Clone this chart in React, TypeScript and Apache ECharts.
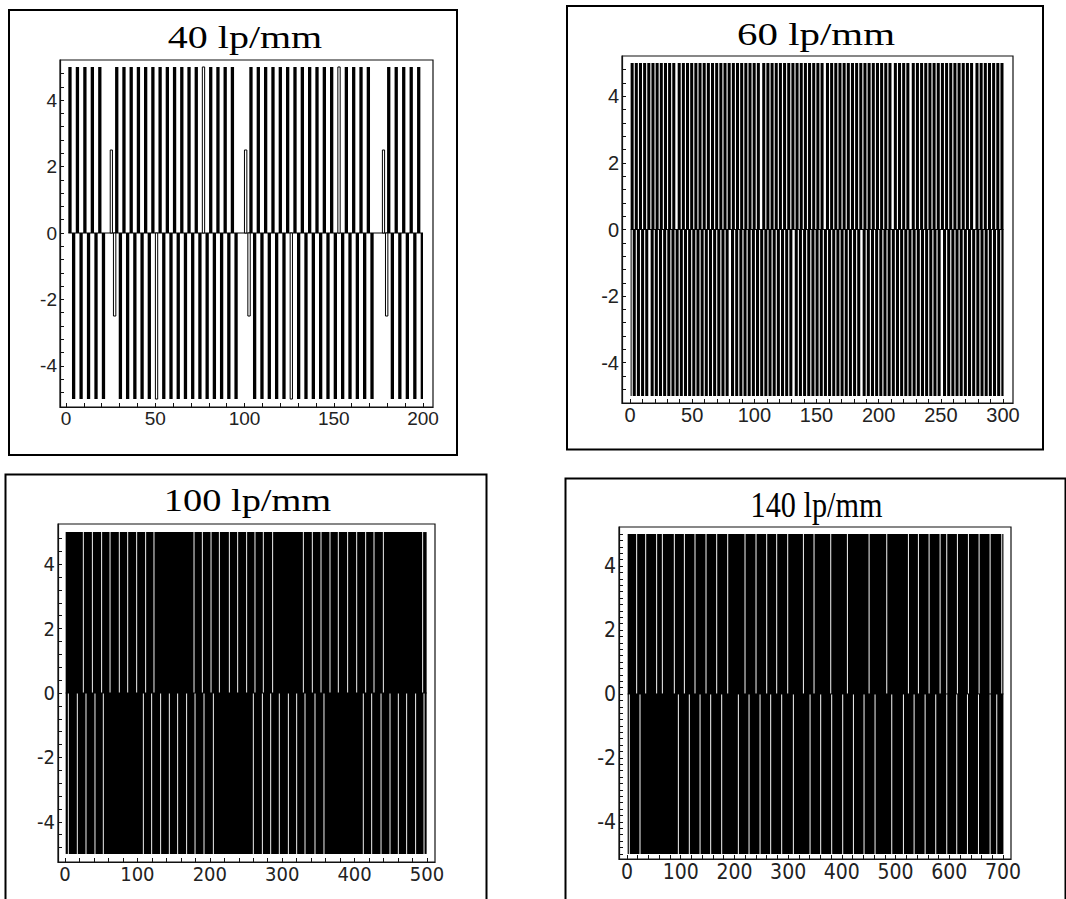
import React, { useEffect, useRef } from "react";
import * as echarts from "echarts";

// ---------------- data ----------------
const TITLES = ["40 lp/mm", "60 lp/mm", "100 lp/mm", "140 lp/mm"];
const X_END = [200, 300, 500, 700];
const X_LABELS_40 = [0, 50, 100, 150, 200];
const X_LABELS_60 = [0, 50, 100, 150, 200, 250, 300];
const X_LABELS_100 = [0, 100, 200, 300, 400, 500];
const X_LABELS_140 = [0, 100, 200, 300, 400, 500, 600, 700];
const Y_LABELS = [-4, -2, 0, 2, 4];
const X_TICK_STEP = [10, 10, 20, 20];
const Y_TICK_STEP = [0.4, 0.4, 0.4, 0.2];
const AMP_FULL = 5;
const AMP_HALF = 2.5;

// bar pattern, run lengths along x: B = black bar to +/-5, W = empty,
// O = outlined bar to +/-5, H = outlined bar to +/-2.5
const UP_40 =
  "W1.3 (B1.85 W2.33)*5 W2.3 H1.8 W1.2 (B1.85 W2.2)*12 O1.85 W2.2 (B1.85 W2.2)*4 W3.35 H1.9 W1.1 (B1.85 W2.26)*12 O1.85 W2.26 (B1.85 W2.26)*4 W4.4 H1.8 W1.1 (B1.85 W2.35)*4 B1.85 W1.55";
const DN_40 =
  "W3.35 (B1.85 W2.33)*4 B1.85 W4.38 H1.9 W1.35 (B1.85 W2.2)*5 O1.85 W2.2 (B1.85 W2.2)*11 W3.2 H1.9 W1.25 (B1.85 W2.26)*5 O1.85 W2.26 (B1.85 W2.26)*11 W4.08 H1.9 W1.3 (B1.85 W2.35)*4 B1.3";
const UP_60 =
  "W0.5 (B2.45 W0.9)*10 B2.45 W1.9 (B2.45 W0.9)*19 B2.45 W1.9 (B2.45 W0.9)*14 B2.45 W1.9 (B2.45 W0.9)*15 B2.45 W1.9 (B2.45 W0.9)*3 B2.45 W1.9 (B2.45 W0.9)*14 B2.45 W1.9 (B2.45 W0.9)*6 B2.45";
const DN_60 =
  "W0.5 B0.8 W0.9 (B2.45 W0.9)*3 B2.45 W1.9 (B2.45 W0.9)*18 B2.45 W1.9 (B2.45 W0.9)*14 B2.45 W1.9 (B2.45 W0.9)*15 B2.45 W1.9 (B2.45 W0.9)*18 B2.45 W1.9 (B2.45 W0.9)*14 B1.8";

// dense panels: black from span start to end, broken by thin white lines at these x
const SPAN_100 = [0.9, 499.5];
const LINE_W_100 = 1.3;
const UP_LINES_100 = [25.3, 37.8, 50.6, 62.2, 75.0, 86.6, 99.0, 111.4, 122.9, 178.2, 189.7, 201.7, 213.2, 227.0, 238.5, 250.9, 262.4, 273.9, 286.8, 329.2, 341.6, 353.6, 366.0, 377.5, 390.4, 402.9, 415.3, 426.8, 439.7, 494.0];
const DN_LINES_100 = [4.6, 17.0, 29.0, 41.4, 52.9, 108.2, 119.7, 132.1, 144.1, 155.6, 168.0, 179.6, 192.0, 204.9, 260.1, 272.6, 284.1, 296.0, 308.5, 320.0, 331.5, 345.3, 357.7, 412.0, 423.6, 436.5, 448.9, 460.4, 471.9, 484.3, 495.9];
const SPAN_140 = [1.2, 700.8];
const LINE_W_140 = 1.8;
const UP_LINES_140 = [18, 34.8, 55.2, 65.8, 88.1, 106.8, 126.6, 147.1, 167, 187.5, 219.7, 240.2, 260.1, 278.7, 299.2, 328.4, 348.2, 379.3, 410.3, 450.7, 483.6, 523.9, 542.5, 562.4, 582.9, 595.3, 615.1, 635.6, 655.5, 676, 697.7];
const DN_LINES_140 = [4.3, 24.2, 95.6, 116, 136, 155.8, 176.3, 207.3, 227.2, 247.7, 267.5, 288, 309.7, 340.8, 360.6, 381.1, 401.6, 421.5, 441.3, 461.8, 492.9, 514.6, 534.5, 555, 574.8, 595.3, 613.9, 633.8, 654.3, 676, 688.4];

// ---------------- layout (pixels) ----------------
const WIDE_FONT = '"Liberation Sans", Arial, sans-serif';
const NARROW_FONT = '"Liberation Sans Narrow", "DejaVu Sans Condensed", "Liberation Sans", sans-serif';
const LAYOUT = [
  { grid: { left: 60, top: 60, width: 373, height: 347 }, x: [-3.36, 205.6], y: [-5.24, 5.21], frame: [9, 10, 448, 445], title: { x: 245, y: 37.5, size: 32, sx: 1.25 }, font: WIDE_FONT, fs: 19 },
  { grid: { left: 622, top: 56, width: 391, height: 347 }, x: [-6.43, 308.04], y: [-5.21, 5.21], frame: [567, 6, 476, 443.5], title: { x: 816, y: 34.5, size: 31, sx: 1.32 }, font: WIDE_FONT, fs: 20 },
  { grid: { left: 58, top: 524, width: 377, height: 338 }, x: [-9.67, 511.05], y: [-5.25, 5.25], frame: [5.5, 474.5, 481, 440], title: { x: 247.5, y: 501, size: 32, sx: 1.2 }, font: NARROW_FONT, fs: 20 },
  { grid: { left: 619, top: 527, width: 392, height: 332 }, x: [-14.9, 714.9], y: [-5.16, 5.22], frame: [565.5, 478.5, 500, 440], title: { x: 816.5, y: 504.5, size: 36, sx: 0.84 }, font: NARROW_FONT, fs: 21 },
];

type Run = [number, number, number, number];

function expand(spec: string): string[] {
  const flat = spec.replace(/\(([^)]*)\)\*(\d+)/g, (_m, body, n) => Array(Number(n)).fill(body).join(" "));
  return flat.trim().split(/\s+/);
}

function rleRuns(spec: string, sign: number): Run[] {
  const out: Run[] = [];
  let x = 0;
  for (const tok of expand(spec)) {
    const k = tok[0];
    const len = parseFloat(tok.slice(1));
    if (k === "B") out.push([x, x + len, sign * AMP_FULL, 0]);
    else if (k === "O") out.push([x, x + len, sign * AMP_FULL, 1]);
    else if (k === "H") out.push([x, x + len, sign * AMP_HALF, 1]);
    x += len;
  }
  return out;
}

function lineRuns(span: number[], lines: number[], w: number, sign: number): Run[] {
  const out: Run[] = [];
  let x = span[0];
  for (const g of lines) {
    out.push([x, g - w / 2, sign * AMP_FULL, 0]);
    x = g + w / 2;
  }
  out.push([x, span[1], sign * AMP_FULL, 0]);
  return out;
}

const PANEL_RUNS: Run[][] = [
  [...rleRuns(UP_40, 1), ...rleRuns(DN_40, -1)],
  [...rleRuns(UP_60, 1), ...rleRuns(DN_60, -1)],
  [...lineRuns(SPAN_100, UP_LINES_100, LINE_W_100, 1), ...lineRuns(SPAN_100, DN_LINES_100, LINE_W_100, -1)],
  [...lineRuns(SPAN_140, UP_LINES_140, LINE_W_140, 1), ...lineRuns(SPAN_140, DN_LINES_140, LINE_W_140, -1)],
];
const X_LABELS = [X_LABELS_40, X_LABELS_60, X_LABELS_100, X_LABELS_140];

function stepTicks(lo: number, hi: number, step: number): number[] {
  const out: number[] = [];
  const k0 = Math.ceil(lo / step - 1e-9);
  const k1 = Math.floor(hi / step + 1e-9);
  for (let k = k0; k <= k1; k++) out.push(Math.round(k * step * 1000) / 1000);
  return out;
}

function buildOption(): any {
  const grid: any[] = [];
  const xAxis: any[] = [];
  const yAxis: any[] = [];
  const series: any[] = [];
  const graphic: any[] = [];

  LAYOUT.forEach((L, i) => {
    const labelStyle = { fontFamily: L.font, fontSize: L.fs, color: "#222" };
    grid.push({ ...L.grid, show: true, borderColor: "#111", borderWidth: 1.2, backgroundColor: "#fff" });
    xAxis.push({
      gridIndex: i,
      type: "value",
      min: L.x[0],
      max: L.x[1],
      axisLine: { show: true, onZero: false, lineStyle: { color: "#111", width: 1.2 } },
      axisTick: { show: true, inside: true, length: 4, customValues: stepTicks(0, X_END[i], X_TICK_STEP[i]), lineStyle: { color: "#111" } },
      axisLabel: { ...labelStyle, margin: 2, customValues: X_LABELS[i] },
      splitLine: { show: false },
    });
    yAxis.push({
      gridIndex: i,
      type: "value",
      min: L.y[0],
      max: L.y[1],
      axisLine: { show: true, onZero: false, lineStyle: { color: "#111", width: 1.2 } },
      axisTick: { show: true, inside: true, length: 4, customValues: stepTicks(-5.05, 5.05, Y_TICK_STEP[i]), lineStyle: { color: "#111" } },
      axisLabel: { ...labelStyle, margin: 3, customValues: Y_LABELS },
      splitLine: { show: false },
    });
    const runs = PANEL_RUNS[i];
    series.push({
      type: "custom",
      xAxisIndex: i,
      yAxisIndex: i,
      silent: true,
      clip: true,
      data: runs,
      encode: { x: [0, 1], y: 2 },
      renderItem: (_p: any, api: any) => {
        const x0 = api.value(0);
        const x1 = api.value(1);
        const v = api.value(2);
        const outline = api.value(3);
        const a = api.coord([x0, 0]);
        const b = api.coord([x1, v]);
        const x = Math.min(a[0], b[0]);
        const w = Math.abs(b[0] - a[0]);
        const y = Math.min(a[1], b[1]);
        const h = Math.abs(b[1] - a[1]);
        if (outline) {
          return {
            type: "rect",
            shape: { x: x + 0.5, y, width: Math.max(w - 1, 0.4), height: h },
            style: { fill: "#fff", stroke: "#000", lineWidth: 1 },
          };
        }
        return { type: "rect", shape: { x, y, width: w, height: h }, style: { fill: "#000" } };
      },
    });
    const xs = runs.map((r) => r[0]);
    const xe = runs.map((r) => r[1]);
    series.push({
      type: "line",
      xAxisIndex: i,
      yAxisIndex: i,
      silent: true,
      symbol: "none",
      data: [
        [Math.min(...xs), 0],
        [Math.max(...xe), 0],
      ],
      lineStyle: { color: "#000", width: 1 },
      z: 1,
    });
    const f = L.frame;
    graphic.push({
      type: "rect",
      shape: { x: f[0], y: f[1], width: f[2], height: f[3] },
      style: { fill: "none", stroke: "#000", lineWidth: 2 },
      silent: true,
    });
    graphic.push({
      type: "text",
      x: L.title.x,
      y: L.title.y,
      scaleX: L.title.sx,
      silent: true,
      style: {
        text: TITLES[i],
        font: `${L.title.size}px "Liberation Serif"`,
        fill: "#000",
        align: "center",
        verticalAlign: "middle",
      },
    });
  });

  return { animation: false, backgroundColor: "#fff", grid, xAxis, yAxis, series, graphic };
}

export default function App() {
  const ref = useRef<HTMLDivElement>(null);
  useEffect(() => {
    const chart = echarts.init(ref.current as HTMLDivElement, null, { renderer: "svg" });
    chart.setOption(buildOption());
    return () => chart.dispose();
  }, []);
  return <div ref={ref} style={{ position: "absolute", left: 0, top: 0, width: 1066, height: 899 }} />;
}
